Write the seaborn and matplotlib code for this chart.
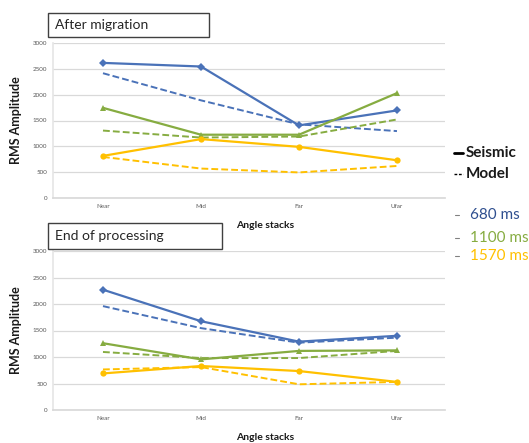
import matplotlib
matplotlib.use("Agg")
import matplotlib.pyplot as plt
from matplotlib.patches import Rectangle
import seaborn as sns
import pandas as pd

sns.set_theme(style="white")
plt.rcParams["font.family"] = ["Lato", "DejaVu Sans"]

angles = ["Near", "Mid", "Far", "Ufar"]
times = ["680 ms", "1100 ms", "1570 ms"]

# After migration
mig_seis_680 = [2615, 2545, 1405, 1695]
mig_model_680 = [2415, 1890, 1425, 1295]
mig_seis_1100 = [1745, 1225, 1225, 2030]
mig_model_1100 = [1305, 1170, 1190, 1520]
mig_seis_1570 = [815, 1140, 990, 730]
mig_model_1570 = [795, 570, 495, 620]

# End of processing
end_seis_680 = [2270, 1675, 1290, 1400]
end_model_680 = [1960, 1545, 1270, 1365]
end_seis_1100 = [1260, 955, 1115, 1125]
end_model_1100 = [1095, 980, 980, 1115]
end_seis_1570 = [690, 830, 735, 530]
end_model_1570 = [765, 810, 485, 530]

y_ticks = [0, 500, 1000, 1500, 2000, 2500, 3000]

colors = {"680 ms": "#4A72B8", "1100 ms": "#86AC41", "1570 ms": "#FFC000"}
markers = {"680 ms": "D", "1100 ms": "^", "1570 ms": "o"}
label_colors = {"680 ms": "#2F4F8F", "1100 ms": "#86AC41", "1570 ms": "#FFC000"}

panels = [
    ("After migration",
     {"680 ms": (mig_seis_680, mig_model_680),
      "1100 ms": (mig_seis_1100, mig_model_1100),
      "1570 ms": (mig_seis_1570, mig_model_1570)}),
    ("End of processing",
     {"680 ms": (end_seis_680, end_model_680),
      "1100 ms": (end_seis_1100, end_model_1100),
      "1570 ms": (end_seis_1570, end_model_1570)}),
]

W, H = 529, 443
fig = plt.figure(figsize=(W / 100, H / 100), dpi=100)

axes_px = [(53, 43, 445, 198), (53, 251, 445, 410)]
box_px = [(48, 13, 209, 37), (48, 223, 222, 249)]
xlabel_y = [226, 437]

for (title, series), (x0, y0, x1, y1), (bx0, by0, bx1, by1), xly in zip(panels, axes_px, box_px, xlabel_y):
    ax = fig.add_axes([x0 / W, 1 - y1 / H, (x1 - x0) / W, (y1 - y0) / H])
    for t in times:
        seis, model = series[t]
        df_s = pd.DataFrame({"angle": angles, "amp": seis})
        df_m = pd.DataFrame({"angle": angles, "amp": model})
        sns.lineplot(data=df_m, x="angle", y="amp", ax=ax, color=colors[t],
                     linewidth=1.4, linestyle=(0, (3.5, 1.6)), sort=False)
        sns.lineplot(data=df_s, x="angle", y="amp", ax=ax, color=colors[t],
                     linewidth=1.6, marker=markers[t], markersize=4.5,
                     markeredgewidth=0, sort=False)
    ax.set_xlim(-0.51, 3.49)
    ax.set_ylim(0, 3000)
    ax.set_yticks(y_ticks)
    ax.set_yticklabels([str(v) for v in y_ticks])
    ax.yaxis.grid(True, color="#D9D9D9", linewidth=0.9)
    ax.xaxis.grid(False)
    ax.tick_params(axis="both", labelsize=4.5, colors="#595959", length=0, pad=4)
    for s in ["top", "right"]:
        ax.spines[s].set_visible(False)
    ax.spines["left"].set_color("#E6E6E6")
    ax.spines["bottom"].set_color("#D9D9D9")
    ax.set_xlabel("")
    ax.set_ylabel("RMS Amplitude", fontsize=9, fontweight="bold", color="#1A1A1A", labelpad=8)
    fig.text(265 / W, 1 - xly / H, "Angle stacks", fontsize=7.5, fontweight="bold",
             color="#1A1A1A", ha="center", va="center")
    fig.patches.append(Rectangle((bx0 / W, 1 - by1 / H), (bx1 - bx0) / W, (by1 - by0) / H,
                                 transform=fig.transFigure, facecolor="white",
                                 edgecolor="#404040", linewidth=1.0))
    fig.text((bx0 + 7) / W, 1 - (by0 + by1) / 2 / H, title, fontsize=10,
             color="#262626", ha="left", va="center")

# Style key
fig.lines.append(plt.Line2D([454 / W, 463 / W], [1 - 153 / H] * 2, transform=fig.transFigure,
                            color="black", linewidth=2))
fig.text(466 / W, 1 - 153 / H, "Seismic", fontsize=11, fontweight="bold", color="#1A1A1A", va="center")
fig.lines.append(plt.Line2D([454 / W, 463 / W], [1 - 174 / H] * 2, transform=fig.transFigure,
                            color="black", linewidth=1, linestyle=(0, (2, 1.2))))
fig.text(466 / W, 1 - 174 / H, "Model", fontsize=11, fontweight="bold", color="#1A1A1A", va="center")

# Time key
for t, ty in zip(times, [215, 238, 256]):
    fig.lines.append(plt.Line2D([455 / W, 459 / W], [1 - ty / H] * 2, transform=fig.transFigure,
                                color="#808080", linewidth=0.8))
    fig.text(470 / W, 1 - ty / H, t, fontsize=11, color=label_colors[t], va="center")

fig.savefig("out.png", dpi=100)
